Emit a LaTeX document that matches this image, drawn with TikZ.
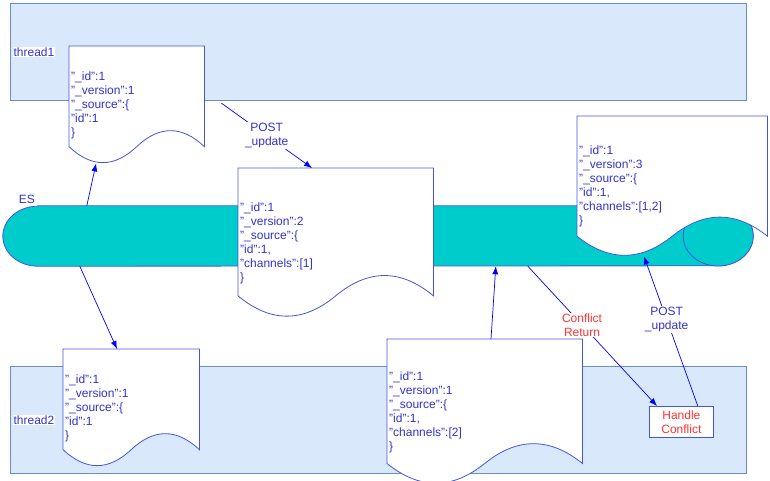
\documentclass[tikz,border=0pt]{standalone}
\usepackage{fontspec}
\setmainfont{Liberation Sans}
\usepackage{tikz}
\usetikzlibrary{calc, arrows.meta}

\definecolor{docBlue}{RGB}{68,85,221}
\definecolor{txtBlue}{RGB}{51,51,204}
\definecolor{confRed}{RGB}{255,51,51}
\definecolor{laneLine}{RGB}{108,142,191}
\definecolor{laneFill}{RGB}{218,232,252}
\definecolor{esFill}{RGB}{0,204,204}

\pgfdeclarelayer{background}
\pgfsetlayers{background,main}

% wavy document outline round a node
\newcommand{\docframe}[1]{%
	\path[docFrame] let \p1=(#1.north west), \p2=(#1.south east), \n1={\x2-\x1}, \n2={0.3*(\y1-\y2)} in
		(\p1) -- (\x2,\y1) -- (\x2,\y2+0.5*\n2)
		.. controls (\x1+0.8333*\n1,\y2+1.1*\n2) and (\x1+0.6667*\n1,\y2+1.1*\n2) .. (\x1+0.5*\n1,\y2+0.5*\n2)
		.. controls (\x1+0.3333*\n1,\y2-0.1*\n2) and (\x1+0.1667*\n1,\y2-0.1*\n2) .. (\x1,\y2+0.5*\n2) -- cycle;}

\begin{document}
\begin{tikzpicture}[x=1pt, y=-1pt,
	txt/.style={font=\fontsize{12}{14}\selectfont, text=txtBlue},
	docnode/.style={txt, anchor=north west, inner sep=2pt, align=left},
	docFrame/.style={draw=docBlue, fill=white, line width=0.8pt},
	lane/.style={draw=laneLine, fill=laneFill, line width=0.8pt, anchor=north west, inner sep=0pt, minimum width=736pt},
	laneLabel/.style={txt, fill=white, inner sep=1pt},
	arrow/.style={-{Latex[length=8pt, width=6pt]}, blue, line width=0.7pt},
	flowLabel/.style={txt, fill=white, inner sep=1pt, align=center}
	]
	
	\useasboundingbox (0,0) rectangle (770,480);
	
	% Documents
	\node[docnode, text width=131pt, minimum height=118pt] (t1doc) at (69,46) {"\_id":1\\"\_version":1\\"\_source":\{\\"id":1\\\}};
	\node[docnode, text width=132pt, minimum height=118pt] (t2doc) at (63,349) {"\_id":1\\"\_version":1\\"\_source":\{\\"id":1\\\}};
	\node[docnode, text width=191pt, minimum height=150pt] (esdoc2) at (238,168) {"\_id":1\\"\_version":2\\"\_source":\{\\"id":1,\\"channels":[1]\\\}};
	\node[docnode, text width=191pt, minimum height=146pt] (t2doc2) at (387,339) {"\_id":1\\"\_version":1\\"\_source":\{\\"id":1,\\"channels":[2]\\\}};
	\node[docnode, text width=186pt, minimum height=141pt] (esdoc3) at (577,116) {"\_id":1\\"\_version":3\\"\_source":\{\\"id":1,\\"channels":[1,2]\\\}};
	
	\begin{pgfonlayer}{background}
		% Threads
		\node[lane, minimum height=97pt] (thread1) at (10,3) {};
		\node[lane, minimum height=107pt] (thread2) at (10,366) {};
		
		% ES
		\node[inner sep=0pt, minimum width=750pt, minimum height=60pt] (ES) at (378,236) {};
		\draw[docFrame, fill=esFill] ($(ES.north west)+(35,0)$) -- ($(ES.north east)+(-35,0)$)
			arc[start angle=90, end angle=-90, x radius=35pt, y radius=30pt]
			-- ($(ES.south west)+(35,0)$)
			arc[start angle=270, end angle=90, x radius=35pt, y radius=30pt] -- cycle;
		\draw[docFrame, fill=esFill] ($(ES.east)+(-35,0)$) ellipse[x radius=35pt, y radius=30pt];
		
		\docframe{t1doc}
		\docframe{t2doc}
		\docframe{esdoc2}
		\docframe{t2doc2}
		\docframe{esdoc3}
	\end{pgfonlayer}
	
	\node[laneLabel] (t1label) at (34,52) {thread1};
	\node[laneLabel] (t2label) at (34,420) {thread2};
	\node[txt] (eslabel) at ($(ES.north west)+(24,-6)$) {ES};
	\node[txt, draw=docBlue, fill=white, line width=0.8pt, text=confRed, align=center, minimum width=64pt, minimum height=31pt, inner sep=1pt, anchor=north west] (handle) at (649,406) {Handle\\Conflict};
	
	% Flows
	\draw[arrow] ($(ES.north west)+(84,0)$) -- ($(t1doc.south west)!0.2!(t1doc.south east)+(0,-1)$);
	\draw[arrow] ($(ES.south west)+(77,0)$) -- ($(t2doc.north west)+(54,0)$);
	\draw[arrow] ($(t1doc.east)+(17,-2)$) -- node[flowLabel] {POST\\\_update} ($(esdoc2.north west)+(74,0)$);
	\draw[arrow] ($(t2doc2.north west)+(104,0)$) -- ($(ES.south west)+(493,0)$);
	\draw[arrow] ($(ES.south west)+(525,0)$) -- node[flowLabel, text=confRed, pos=0.42] {Conflict\\Return} ($(handle.north west)+(8,0)$);
	\draw[arrow] ($(handle.north east)+(-16,0)$) -- node[flowLabel, pos=0.58] {POST\\\_update} ($(esdoc3.south west)+(67,-1)$);
\end{tikzpicture}
\end{document}
